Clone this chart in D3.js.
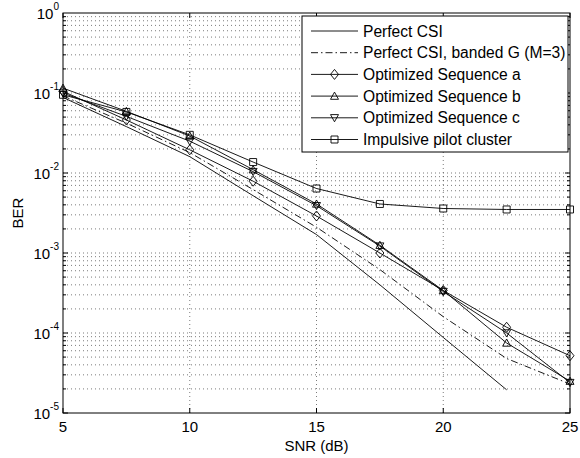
<!DOCTYPE html>
<html>
<head>
<meta charset="utf-8">
<script src="https://cdn.jsdelivr.net/npm/d3@7"></script>
<style>
  body { margin: 0; background: #fff; }
  text { font-family: "Liberation Sans", Arial, sans-serif; fill: #000; }
</style>
</head>
<body>
<div id="chart"></div>
<script>
// SNR points (dB)
const snr = [5, 7.5, 10, 12.5, 15, 17.5, 20, 22.5, 25];

// BER series
const perfectCsi = [0.088, 0.038, 0.016, 0.0052, 0.0017, 4.0e-4, 8.8e-5, 1.95e-5];
const bandedG = [0.092, 0.042, 0.018, 0.0062, 0.0021, 6.2e-4, 1.6e-4, 4.8e-5, 2.3e-5];
const seqA = [0.105, 0.046, 0.0195, 0.0079, 0.0029, 0.00100, 3.4e-4, 1.18e-4, 5.2e-5];
const seqB = [0.115, 0.059, 0.029, 0.011, 0.0041, 0.00125, 3.4e-4, 7.5e-5, 2.5e-5];
const seqC = [0.100, 0.051, 0.025, 0.0104, 0.0039, 0.00122, 3.3e-4, 1.0e-4, 2.4e-5];
const impulsive = [0.095, 0.058, 0.030, 0.0137, 0.0064, 0.0041, 0.0036, 0.0035, 0.0035];

const series = [
  {name: "Perfect CSI", y: perfectCsi, dash: null, marker: null},
  {name: "Perfect CSI, banded G (M=3)", y: bandedG, dash: "7,3,1.5,3", marker: null},
  {name: "Optimized Sequence a", y: seqA, dash: null, marker: "diamond"},
  {name: "Optimized Sequence b", y: seqB, dash: null, marker: "up"},
  {name: "Optimized Sequence c", y: seqC, dash: null, marker: "down"},
  {name: "Impulsive pilot cluster", y: impulsive, dash: null, marker: "square"}
];

const xTicks = [5, 10, 15, 20, 25];
const yExps = [0, -1, -2, -3, -4, -5];

const W = 580, H = 458;
const margin = {top: 13, right: 10, bottom: 45, left: 63};

const svg = d3.select("#chart").append("svg")
  .attr("width", W).attr("height", H);

const x = d3.scaleLinear().domain([5, 25]).range([margin.left, W - margin.right]);
const y = d3.scaleLog().domain([1e-5, 1]).range([H - margin.bottom, margin.top]);

const x0 = x.range()[0], x1 = x.range()[1];
const y0 = y.range()[0], y1 = y.range()[1];

// grid
const grid = svg.append("g")
  .attr("stroke", "#444").attr("stroke-width", 0.7)
  .attr("stroke-dasharray", "1,3");

xTicks.slice(1, -1).forEach(t => {
  grid.append("line").attr("x1", x(t)).attr("x2", x(t)).attr("y1", y0).attr("y2", y1);
});

const minor = [];
for (let e = -5; e < 0; e++) {
  for (let m = 1; m < 10; m++) minor.push(m * Math.pow(10, e));
}
minor.filter(v => v > 1e-5).forEach(v => {
  grid.append("line").attr("x1", x0).attr("x2", x1).attr("y1", y(v)).attr("y2", y(v));
});

// axes box and ticks
const axes = svg.append("g").attr("stroke", "#000").attr("fill", "none");
axes.append("rect").attr("x", x0).attr("y", y1).attr("width", x1 - x0).attr("height", y0 - y1)
  .attr("stroke-width", 1);

xTicks.forEach(t => {
  axes.append("line").attr("x1", x(t)).attr("x2", x(t)).attr("y1", y0).attr("y2", y0 - 5);
  axes.append("line").attr("x1", x(t)).attr("x2", x(t)).attr("y1", y1).attr("y2", y1 + 5);
});
minor.forEach(v => {
  const len = (Math.abs(Math.log10(v) - Math.round(Math.log10(v))) < 1e-9) ? 5 : 3;
  axes.append("line").attr("x1", x0).attr("x2", x0 + len).attr("y1", y(v)).attr("y2", y(v));
  axes.append("line").attr("x1", x1).attr("x2", x1 - len).attr("y1", y(v)).attr("y2", y(v));
});

// tick labels
svg.append("g").selectAll("text").data(xTicks).join("text")
  .attr("x", d => x(d)).attr("y", y0 + 19)
  .attr("text-anchor", "middle").attr("font-size", 15)
  .text(d => d);

const yl = svg.append("g").selectAll("text").data(yExps).join("text")
  .attr("x", x0 - 4).attr("y", d => y(Math.pow(10, d)) + 6)
  .attr("text-anchor", "end").attr("font-size", 15);
yl.append("tspan").text("10");
yl.append("tspan").attr("dy", -9).attr("font-size", 10).text(d => d);

// axis titles
svg.append("text").attr("x", (x0 + x1) / 2).attr("y", H - 7)
  .attr("text-anchor", "middle").attr("font-size", 15).text("SNR (dB)");
svg.append("text").attr("transform", `translate(23,${(y0 + y1) / 2}) rotate(-90)`)
  .attr("text-anchor", "middle").attr("font-size", 15).text("BER");

// markers
function drawMarker(g, type, cx, cy) {
  const s = 4;
  let p;
  if (type === "diamond") p = [[cx, cy - s - 1], [cx + s, cy], [cx, cy + s + 1], [cx - s, cy]];
  else if (type === "up") p = [[cx, cy - s], [cx + s, cy + s * 0.8], [cx - s, cy + s * 0.8]];
  else if (type === "down") p = [[cx, cy + s], [cx + s, cy - s * 0.8], [cx - s, cy - s * 0.8]];
  else if (type === "square") p = [[cx - 3.5, cy - 3.5], [cx + 3.5, cy - 3.5], [cx + 3.5, cy + 3.5], [cx - 3.5, cy + 3.5]];
  if (!p) return;
  g.append("polygon").attr("points", p.map(q => q.join(",")).join(" "))
    .attr("fill", "none").attr("stroke", "#000").attr("stroke-width", 0.9);
}

const line = d3.line().x(d => x(d[0])).y(d => y(d[1]));
const plot = svg.append("g");

series.forEach(s => {
  const pts = s.y.map((v, i) => [snr[i], v]);
  plot.append("path").datum(pts).attr("d", line)
    .attr("fill", "none").attr("stroke", "#000").attr("stroke-width", 0.9)
    .attr("stroke-dasharray", s.dash);
  if (s.marker) pts.forEach(p => drawMarker(plot, s.marker, x(p[0]), y(p[1])));
});

// legend
const lg = svg.append("g");
const lx = 302, ly = 16, lw = 266, lh = 136;
lg.append("rect").attr("x", lx).attr("y", ly).attr("width", lw).attr("height", lh)
  .attr("fill", "#fff").attr("stroke", "#000").attr("stroke-width", 1);
series.forEach((s, i) => {
  const cy = ly + 15 + i * 21.7;
  lg.append("line").attr("x1", lx + 9).attr("x2", lx + 56).attr("y1", cy).attr("y2", cy)
    .attr("stroke", "#000").attr("stroke-width", 0.9).attr("stroke-dasharray", s.dash);
  if (s.marker) drawMarker(lg, s.marker, lx + 32.5, cy);
  lg.append("text").attr("x", lx + 61).attr("y", cy + 5.5).attr("font-size", 15.6).text(s.name);
});
</script>
</body>
</html>
